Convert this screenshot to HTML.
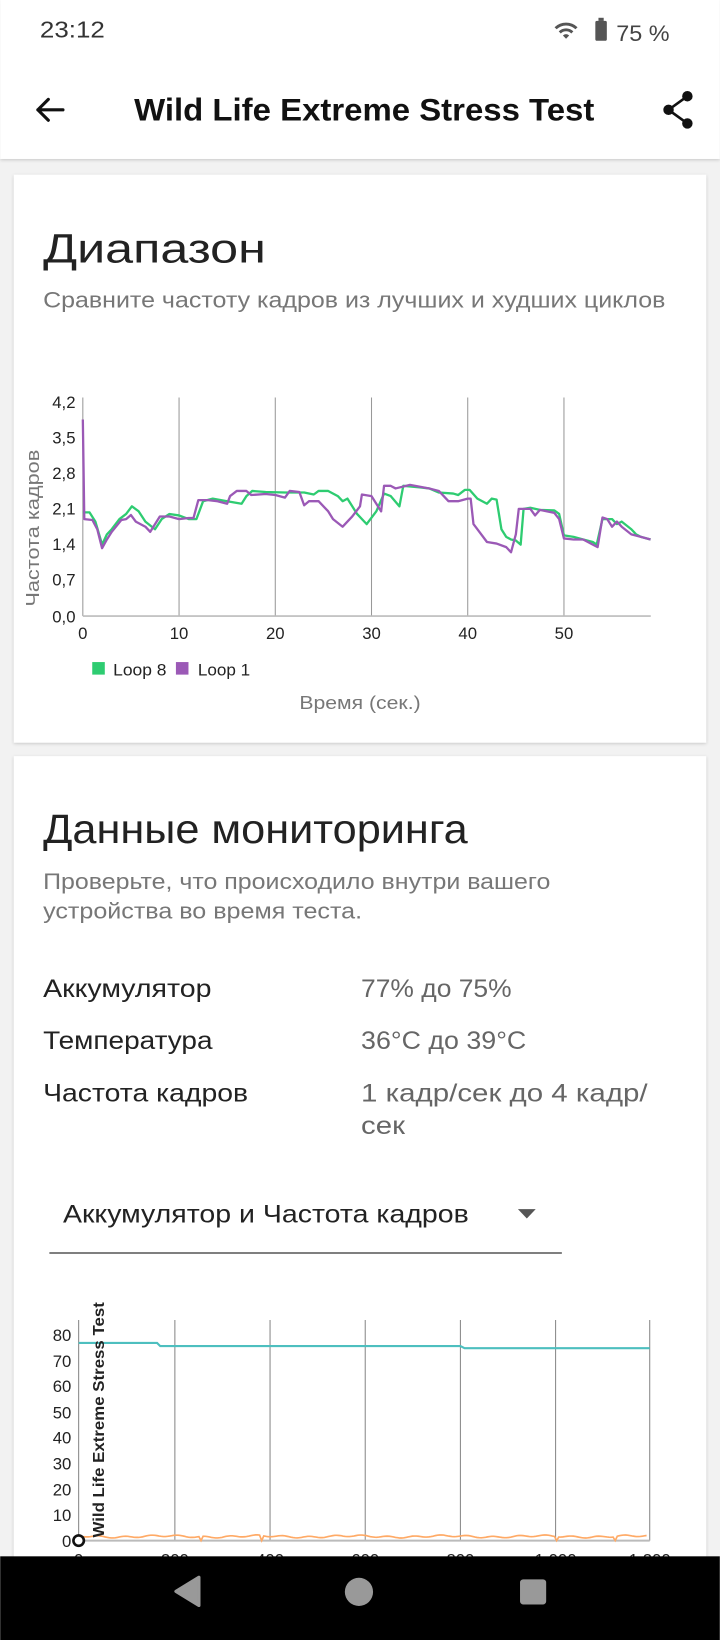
<!DOCTYPE html>
<html><head><meta charset="utf-8">
<style>
html,body{margin:0;padding:0;width:720px;height:1640px;overflow:hidden;background:#f2f2f2;}
svg{display:block;}
text{font-family:"Liberation Sans","DejaVu Sans",sans-serif;}
</style></head>
<body>
<svg width="720" height="1640" viewBox="0 0 688 1568" xmlns="http://www.w3.org/2000/svg">
<defs>
<filter id="sh" x="-5%" y="-5%" width="110%" height="110%"><feDropShadow dx="0" dy="1" stdDeviation="1.5" flood-color="#000" flood-opacity="0.18"/></filter>
</defs>
<rect width="688" height="1568" fill="#f2f2f2"/>
<rect x="0" y="0" width="688" height="152" fill="#fff" filter="url(#sh)"/>
<text x="38" y="36" font-size="22" fill="#333" textLength="62" lengthAdjust="spacingAndGlyphs">23:12</text>
<g fill="#555">
<path d="M530 26 a16 16 0 0 1 22 0 l-2 2 a13 13 0 0 0 -18 0z M534 30 a10 10 0 0 1 14 0 l-2 2 a7 7 0 0 0 -10 0z M538 34 a4 4 0 0 1 6 0 l-3 3z"/>
<rect x="569" y="20" width="11" height="19" rx="1.5"/><rect x="572" y="17" width="5" height="3"/>
</g>
<text x="589" y="39" font-size="21" fill="#444" textLength="51" lengthAdjust="spacingAndGlyphs">75 %</text>
<path d="M36 105 H60 M36 105 L46 95 M36 105 L46 115" stroke="#111" stroke-width="3" fill="none" stroke-linecap="round" stroke-linejoin="round"/>
<text x="128" y="115" font-size="30" font-weight="bold" fill="#111" textLength="440" lengthAdjust="spacingAndGlyphs">Wild Life Extreme Stress Test</text>
<g fill="#111"><circle cx="657" cy="92" r="5"/><circle cx="639" cy="105" r="5"/><circle cx="657" cy="118" r="5"/>
<path d="M657 92 L639 105 L657 118" stroke="#111" stroke-width="2.5" fill="none"/></g>

<rect x="13" y="167" width="662" height="543" fill="#fff" filter="url(#sh)"/>
<text x="41" y="251" font-size="39" fill="#222" textLength="213" lengthAdjust="spacingAndGlyphs">Диапазон</text>
<text x="41" y="294" font-size="21" fill="#777" textLength="595" lengthAdjust="spacingAndGlyphs">Сравните частоту кадров из лучших и худших циклов</text>
<g stroke="#999" stroke-width="1">
<line x1="171" y1="380" x2="171" y2="589"/><line x1="263" y1="380" x2="263" y2="589"/><line x1="355" y1="380" x2="355" y2="589"/><line x1="447" y1="380" x2="447" y2="589"/><line x1="539" y1="380" x2="539" y2="589"/>
<line x1="79" y1="380" x2="79" y2="589"/><line x1="79" y1="589" x2="622" y2="589" stroke="#bbb" stroke-width="1.5"/>
</g>
<g font-size="16" fill="#222" text-anchor="end">
<text x="72" y="390">4,2</text><text x="72" y="424">3,5</text><text x="72" y="458">2,8</text><text x="72" y="492">2,1</text><text x="72" y="526">1,4</text><text x="72" y="560">0,7</text><text x="72" y="595">0,0</text>
</g>
<g font-size="16" fill="#222" text-anchor="middle">
<text x="79" y="611">0</text><text x="171" y="611">10</text><text x="263" y="611">20</text><text x="355" y="611">30</text><text x="447" y="611">40</text><text x="539" y="611">50</text>
</g>
<text transform="translate(37,505) rotate(-90)" font-size="18" fill="#777" text-anchor="middle" textLength="150" lengthAdjust="spacingAndGlyphs">Частота кадров</text>
<path id="g1" fill="none" stroke="#2ecc71" stroke-width="2.2" stroke-linejoin="round"/>
<path id="p1" fill="none" stroke="#9b59b6" stroke-width="2.2" stroke-linejoin="round"/>
<rect x="88" y="633" width="12" height="12" fill="#2ecc71"/><text x="108" y="646" font-size="16" fill="#222" textLength="51" lengthAdjust="spacingAndGlyphs">Loop 8</text>
<rect x="168" y="633" width="12" height="12" fill="#9b59b6"/><text x="189" y="646" font-size="16" fill="#222" textLength="50" lengthAdjust="spacingAndGlyphs">Loop 1</text>
<text x="286" y="678" font-size="18" fill="#777" textLength="116" lengthAdjust="spacingAndGlyphs">Время (сек.)</text>

<rect x="13" y="723" width="662" height="800" fill="#fff" filter="url(#sh)"/>
<text x="41" y="806" font-size="39" fill="#222" textLength="406" lengthAdjust="spacingAndGlyphs">Данные мониторинга</text>
<text x="41" y="850" font-size="21" fill="#777" textLength="485" lengthAdjust="spacingAndGlyphs">Проверьте, что происходило внутри вашего</text>
<text x="41" y="878" font-size="21" fill="#777" textLength="305" lengthAdjust="spacingAndGlyphs">устройства во время теста.</text>
<g font-size="24" fill="#222">
<text x="41" y="953" textLength="161" lengthAdjust="spacingAndGlyphs">Аккумулятор</text><text x="41" y="1003" textLength="162" lengthAdjust="spacingAndGlyphs">Температура</text><text x="41" y="1053" textLength="196" lengthAdjust="spacingAndGlyphs">Частота кадров</text>
</g>
<g font-size="24" fill="#666">
<text x="345" y="953" textLength="144" lengthAdjust="spacingAndGlyphs">77% до 75%</text><text x="345" y="1003" textLength="158" lengthAdjust="spacingAndGlyphs">36°C до 39°C</text><text x="345" y="1053" textLength="274" lengthAdjust="spacingAndGlyphs">1 кадр/сек до 4 кадр/</text><text x="345" y="1084" textLength="42" lengthAdjust="spacingAndGlyphs">сек</text>
</g>
<text x="60" y="1169" font-size="24" fill="#222" textLength="388" lengthAdjust="spacingAndGlyphs">Аккумулятор и Частота кадров</text>
<path d="M495 1156 L512 1156 L503.5 1165z" fill="#555"/>
<line x1="47" y1="1198" x2="537" y2="1198" stroke="#555" stroke-width="1.5"/>
<g stroke="#888" stroke-width="1">
<line x1="75" y1="1262" x2="75" y2="1473"/><line x1="167" y1="1262" x2="167" y2="1473"/><line x1="258" y1="1262" x2="258" y2="1473"/><line x1="349" y1="1262" x2="349" y2="1473"/><line x1="440" y1="1262" x2="440" y2="1473"/><line x1="531" y1="1262" x2="531" y2="1473"/><line x1="621" y1="1262" x2="621" y2="1473"/>
</g>
<line x1="75" y1="1473" x2="621" y2="1473" stroke="#bbb" stroke-width="2"/>
<g font-size="16" fill="#222" text-anchor="end">
<text x="68" y="1282">80</text><text x="68" y="1307">70</text><text x="68" y="1331">60</text><text x="68" y="1356">50</text><text x="68" y="1380">40</text><text x="68" y="1405">30</text><text x="68" y="1430">20</text><text x="68" y="1454">10</text><text x="68" y="1479">0</text>
</g>
<path d="M75 1284 H150 L153 1287 H440 L444 1289 H621" fill="none" stroke="#4dbfbf" stroke-width="2"/>
<path id="o1" fill="none" stroke="#ffaa66" stroke-width="1.6"/>
<circle cx="75" cy="1473" r="5" fill="#fff" stroke="#111" stroke-width="2.5"/>
<text transform="translate(99,1470) rotate(-90)" font-size="15" font-weight="bold" fill="#222" textLength="225" lengthAdjust="spacingAndGlyphs">Wild Life Extreme Stress Test</text>
<g font-size="16" fill="#222" text-anchor="middle"><text x="75" y="1497">0</text><text x="167" y="1497">200</text><text x="258" y="1497">400</text><text x="349" y="1497">600</text><text x="440" y="1497">800</text><text x="531" y="1497">1 000</text><text x="621" y="1497">1 200</text></g>

<rect x="0" y="1488" width="688" height="80" fill="#000"/>
<path d="M190 1508 L190 1535 L168 1521.5z" fill="#999" stroke="#999" stroke-width="3" stroke-linejoin="round"/>
<circle cx="343" cy="1522" r="13.5" fill="#999"/>
<rect x="497" y="1510" width="25" height="24" rx="3" fill="#999"/>
</svg>
<script>
function P(d){var s='';for(var i=0;i<d.length;i+=2){var x=79+d[i]*9.2,y=589-d[i+1]*48.81;s+=(i?'L':'M')+x.toFixed(1)+' '+y.toFixed(1);}return s;}
var G=[0,2.03,0.7,2.03,1.3,1.85,2,1.4,2.5,1.6,3,1.7,3.8,1.9,4.5,2.0,5.1,2.15,5.8,2.05,6.5,1.85,7.5,1.7,8.2,1.9,9,2.0,10,1.97,11,1.9,11.8,1.9,12.5,2.25,13.5,2.3,15,2.25,16.5,2.2,17,2.35,17.6,2.45,19,2.43,21,2.42,23,2.42,24,2.38,24.5,2.45,25.5,2.45,26.5,2.35,27,2.25,27.5,2.3,28.5,2.0,29.5,1.8,30.5,2.05,31.3,2.4,32,2.35,32.9,2.15,33.3,2.55,35,2.52,36,2.5,37,2.42,38.5,2.4,39,2.37,39.7,2.47,40.2,2.47,41,2.3,42,2.2,42.5,2.3,43,2.28,43.5,1.7,44,1.55,44.5,1.5,45,1.48,45.5,1.4,45.8,2.1,46.5,2.12,47.5,2.08,49,2.07,49.5,2.0,50,1.58,51,1.55,52,1.5,53,1.45,53.4,1.4,54,1.9,55,1.9,55.5,1.8,56,1.85,57,1.7,57.5,1.6,58,1.55,59,1.5];
var Q=[0,3.85,0.15,1.9,1,1.88,1.5,1.7,2,1.33,2.5,1.5,3,1.65,4,1.88,4.5,1.9,5,1.98,5.5,1.85,6.5,1.75,7,1.65,8,1.95,9,1.95,10,1.9,11,1.92,11.5,1.92,12,2.27,13,2.27,14,2.25,15,2.2,15.3,2.35,16,2.45,17,2.45,17.5,2.37,19,2.39,20,2.37,21,2.32,21.5,2.45,22.5,2.43,23,2.17,23.5,2.25,24.5,2.25,25.5,2.05,26,1.9,27,1.75,28,1.95,28.8,2.15,29,2.38,30,2.35,30.5,2.2,31,2.05,31.3,2.55,32,2.55,32.5,2.5,34,2.57,36,2.5,37,2.45,38,2.25,39,2.25,40,2.3,40.3,2.3,40.6,1.8,41,1.7,42,1.45,43,1.42,44,1.35,44.5,1.25,45,1.6,45.3,2.1,46.5,2.1,47,1.97,47.5,2.08,49,2.02,49.5,1.9,50,1.52,51,1.5,52,1.5,53,1.4,53.5,1.35,54,1.93,54.5,1.9,55,1.75,55.5,1.85,56,1.75,57,1.6,58,1.55,59,1.5];
document.getElementById('g1').setAttribute('d',P(G));
document.getElementById('p1').setAttribute('d',P(Q));
var s='';var dips=[192,250,532,588];
for(var x=76;x<=618;x+=2){var y=1469+Math.sin(x*0.25)*0.8+Math.sin(x*0.07)*0.7;for(var k=0;k<dips.length;k++){if(Math.abs(x-dips[k])<2)y=1473;}s+=(x==76?'M':'L')+x+' '+y.toFixed(1);}
document.getElementById('o1').setAttribute('d',s);
</script>
</body></html>
